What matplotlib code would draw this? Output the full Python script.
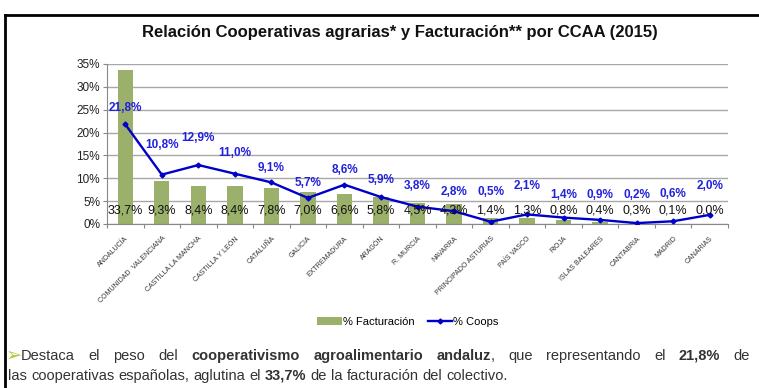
import matplotlib
matplotlib.use("Agg")
from matplotlib import pyplot as plt
from matplotlib.lines import Line2D
import numpy as np

regiones = ["ANDALUCÍA", "COMUNIDAD  VALENCIANA", "CASTILLA LA MANCHA",
            "CASTILLA Y LEÓN", "CATALUÑA", "GALICIA", "EXTREMADURA", "ARAGÓN",
            "R. MURCIA", "NAVARRA", "PRINCIPADO ASTURIAS", "PAÍS VASCO", "RIOJA",
            "ISLAS BALEARES", "CANTABRIA", "MADRID", "CANARIAS"]
facturacion = [33.7, 9.3, 8.4, 8.4, 7.8, 7.0, 6.6, 5.8, 4.5, 4.3, 1.4, 1.3,
               0.8, 0.4, 0.3, 0.1, 0.0]
coops = [21.8, 10.8, 12.9, 11.0, 9.1, 5.7, 8.6, 5.9, 3.8, 2.8, 0.5, 2.1,
         1.4, 0.9, 0.2, 0.6, 2.0]

# how far (px) each coops label sits above its point
dy_coops = [16, 30, 27, 21, 14, 15, 15, 17, 21, 19, 30, 28, 23, 25, 28, 27, 29]

W, H = 759, 388
fig = plt.figure(figsize=(W / 100, H / 100), dpi=100)
plt.rcParams['font.family'] = ['Liberation Sans', 'DejaVu Sans']

# outer frame (top and left edges)
fig.add_artist(Line2D([4.5 / W, 1.0], [1 - 14.5 / H, 1 - 14.5 / H], color='black',
                      lw=2, transform=fig.transFigure))
fig.add_artist(Line2D([4.5 / W, 4.5 / W], [0, 1 - 14.5 / H], color='black',
                      lw=2, transform=fig.transFigure))

fig.text(400 / W, 1 - 32 / H, "Relación Cooperativas agrarias* y Facturación** por CCAA (2015)",
         ha='center', va='center', fontsize=12, fontweight='bold', color='#111111')

ax = fig.add_axes([107 / W, 1 - 224 / H, (728 - 107) / W, (224 - 64) / H])
x = np.arange(len(regiones))
bars = ax.bar(x, facturacion, width=0.42, color='#9BB06A', label='% Facturación', zorder=2)
line, = ax.plot(x, coops, color='#0000CC', lw=1.7, marker='D', markersize=2.5,
                label='% Coops', zorder=3)

for i, v in enumerate(facturacion):
    ax.text(i, 2.9, f"{v:.1f}%".replace('.', ','), ha='center', va='center',
            fontsize=9, color='#111111', zorder=4)
for i, v in enumerate(coops):
    ax.annotate(f"{v:.1f}%".replace('.', ','), (i, v), xytext=(0, dy_coops[i] * 0.72),
                textcoords='offset points', ha='center', va='center',
                fontsize=8.5, fontweight='bold', color='#2222DD', zorder=4)

ax.set_xlim(-0.5, len(regiones) - 0.5)
ax.set_ylim(0, 35)
ax.set_yticks(np.arange(0, 36, 5))
ax.set_yticklabels([f"{t}%" for t in range(0, 36, 5)], fontsize=8.5, color='#222222')
ax.yaxis.grid(True, color='#A8A8A8', lw=1)
ax.set_axisbelow(True)
for s in ['top', 'right']:
    ax.spines[s].set_visible(False)
ax.spines['left'].set_color('#888888')
ax.spines['bottom'].set_color('#888888')
ax.tick_params(axis='y', length=3, color='#888888', pad=2)

# ticks between categories, labels at category centres
ax.set_xticks(np.arange(-0.5, len(regiones), 1))
ax.set_xticklabels([])
ax.tick_params(axis='x', length=3, color='#888888')
for i, name in enumerate(regiones):
    ax.annotate(name, (i, 0), xytext=(0, -8), textcoords='offset points',
                xycoords=('data', 'axes fraction'), rotation=45,
                rotation_mode='anchor', ha='right', va='top',
                fontsize=5, color='#333333')

ax.legend([bars, line], ['% Facturación', '% Coops'], loc='center',
          bbox_to_anchor=(408 / W, 1 - 322 / H),
          bbox_transform=fig.transFigure, ncol=2, frameon=False, fontsize=8,
          handlelength=2.2, handletextpad=0.1, columnspacing=1.2)

# note below the chart, laid out word by word
renderer = fig.canvas.get_renderer()
body = dict(fontsize=10.5, color='#333333')
line1 = [("Destaca", False), ("el", False), ("peso", False), ("del", False),
         ("cooperativismo", True), ("agroalimentario", True), ("andaluz", True),
         (",", False), ("que", False), ("representando", False), ("el", False),
         ("21,8%", True), ("de", False)]
line2 = [("las", False), ("cooperativas", False), ("españolas,", False),
         ("aglutina", False), ("el", False), ("33,7%", True), ("de", False),
         ("la", False), ("facturación", False), ("del", False), ("colectivo.", False)]


def place_line(words, x0, x1, y, justify):
    arts = []
    for w, b in words:
        t = fig.text(0, y, w, va='baseline', fontweight='bold' if b else 'normal', **body)
        arts.append(t)
    widths = [a.get_window_extent(renderer).width for a in arts]
    # comma sticks to previous word
    gaps = [0 if words[k + 1][0] == "," else 1 for k in range(len(words) - 1)]
    t1 = fig.text(0, 0, "a a", **body)
    t2 = fig.text(0, 0, "aa", **body)
    space = t1.get_window_extent(renderer).width - t2.get_window_extent(renderer).width
    t1.remove()
    t2.remove()
    if justify:
        space = (x1 - x0 - sum(widths)) / sum(gaps)
    xp = x0
    for k, a in enumerate(arts):
        a.set_x(xp / W)
        xp += widths[k]
        if k < len(gaps):
            xp += space * gaps[k]


fig.text(6 / W, 1 - 361 / H, "➢", va='baseline', fontsize=14, color='#B8C43A',
         family=['DejaVu Sans'])
place_line(line1, 21, 750, 1 - 360 / H, True)
place_line(line2, 8, 0, 1 - 380 / H, False)

fig.savefig("out.png", dpi=100)
